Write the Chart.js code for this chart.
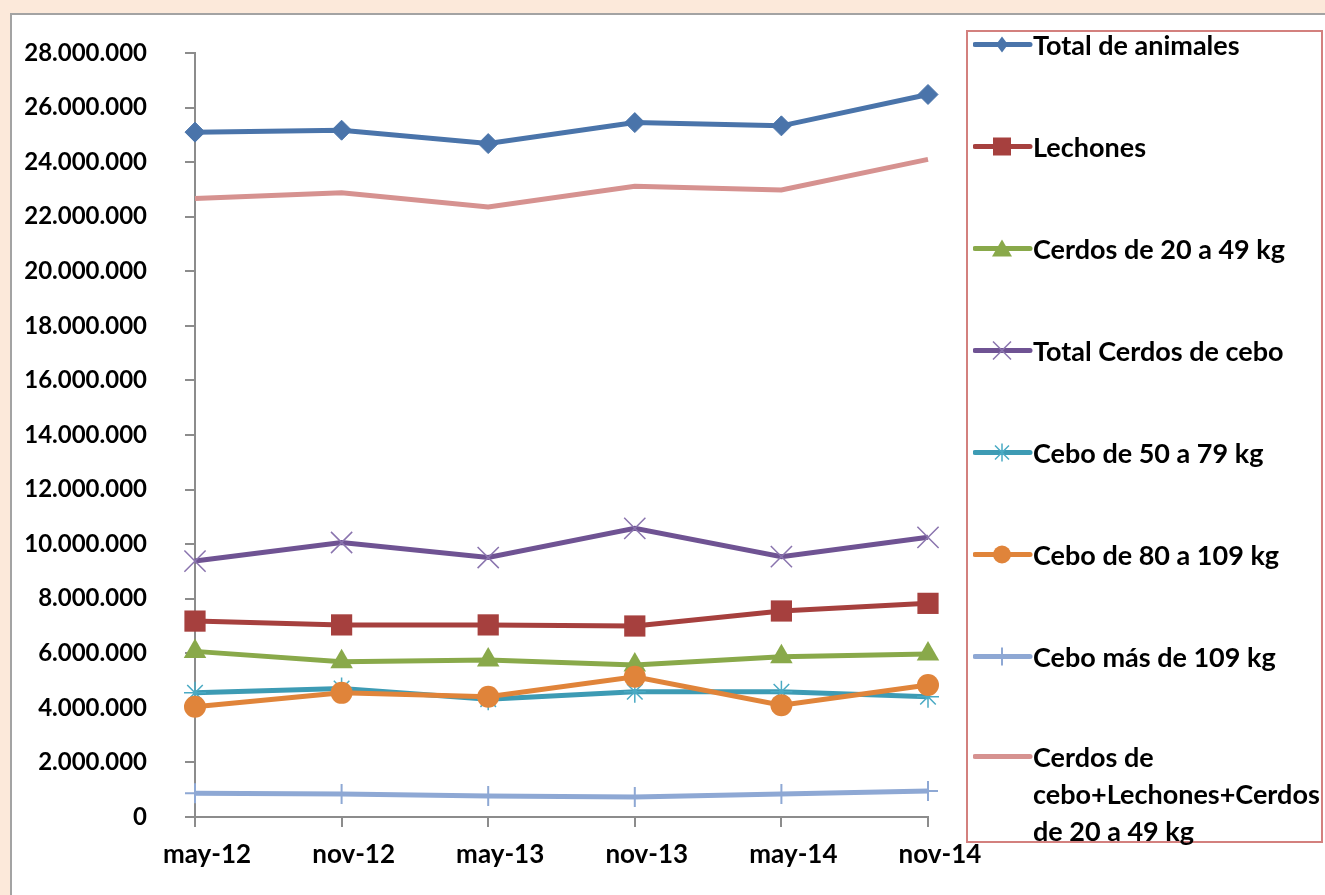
<!DOCTYPE html>
<html lang="es">
<head>
<meta charset="UTF-8">
<title>Censo porcino</title>
<script src="https://cdn.jsdelivr.net/npm/chart.js"></script>
<style>
    body {
        margin: 0;
        width: 1325px;
        height: 895px;
        overflow: hidden;
        background: #fce9da;
        font-family: Lato, sans-serif;
    }
    #frame {
        position: absolute;
        left: 10px;
        top: 13px;
        width: 1400px;
        height: 1000px;
        background: #fff;
        border: 2px solid #a3a3a3;
    }
    #chart-box {
        position: absolute;
        left: 0;
        top: 0;
        width: 1000px;
        height: 895px;
    }
    #legend {
        position: absolute;
        left: 966px;
        top: 30px;
        width: 353px;
        height: 809px;
        border: 2px solid #d3807e;
        background: #fff;
    }
    .item {
        position: absolute;
        left: 5px;
        display: flex;
        align-items: flex-start;
        font-weight: bold;
        font-size: 27px;
        line-height: 37px;
        color: #000;
    }
    .item svg { flex: none; }
    .item span { width: 292px; }
</style>
</head>
<body>
<div id="frame"></div>
<div id="chart-box"><canvas id="chart"></canvas></div>
<div id="legend"></div>

<script>
const periods = ['may-12', 'nov-12', 'may-13', 'nov-13', 'may-14', 'nov-14'];

const totalAnimales = [25100000, 25170000, 24680000, 25450000, 25330000, 26480000];
const lechones = [7180000, 7040000, 7040000, 7000000, 7550000, 7830000];
const cerdos20a49 = [6070000, 5690000, 5750000, 5570000, 5870000, 5970000];
const totalCebo = [9380000, 10060000, 9510000, 10580000, 9540000, 10250000];
const cebo50a79 = [4550000, 4710000, 4320000, 4590000, 4590000, 4410000];
const cebo80a109 = [4040000, 4550000, 4410000, 5140000, 4100000, 4840000];
const ceboMas109 = [870000, 840000, 770000, 730000, 840000, 950000];
const sumaCerdos = [22670000, 22880000, 22360000, 23120000, 22980000, 24100000];

const yTicksMax = 28000000;
const yTicksStep = 2000000;

// series: label, data, line colour, marker
const series = [
    { label: 'Total de animales', data: totalAnimales, color: '#4a74aa', style: 'rectRot', r: 10, mark: '#4a74aa', bw: 1 },
    { label: 'Lechones', data: lechones, color: '#a6403e', style: 'rect', r: 15, mark: '#a6403e', bw: 0 },
    { label: 'Cerdos de 20 a 49 kg', data: cerdos20a49, color: '#89a94a', style: 'triangle', r: 13, mark: '#89a94a', bw: 0 },
    { label: 'Total Cerdos de cebo', data: totalCebo, color: '#6f5393', style: 'crossRot', r: 15, mark: '#8a74ae', bw: 1.5 },
    { label: 'Cebo de 50 a 79 kg', data: cebo50a79, color: '#3d9bb4', style: 'star', r: 11, mark: '#4aaac4', bw: 1.5 },
    { label: 'Cebo de 80 a 109 kg', data: cebo80a109, color: '#e0843a', style: 'circle', r: 11, mark: '#e0843a', bw: 0 },
    { label: 'Cebo más de 109 kg', data: ceboMas109, color: '#8ea8d4', style: 'cross', r: 10, mark: '#8ea8d4', bw: 2 },
    { label: 'Cerdos de cebo+Lechones+Cerdos de 20 a 49 kg', data: sumaCerdos, color: '#d69290', style: false, r: 0, mark: '#d69290', bw: 0 }
];

function fmt(v) {
    return String(v).replace(/\B(?=(\d{3})+(?!\d))/g, '.');
}

const datasets = series.map((s, i) => ({
    label: s.label,
    data: s.data,
    borderColor: s.color,
    backgroundColor: s.mark,
    borderWidth: 5,
    tension: 0,
    pointStyle: s.style,
    pointRadius: s.r,
    pointBackgroundColor: s.mark,
    pointBorderColor: s.mark,
    pointBorderWidth: s.bw,
    order: series.length - i,
    clip: false
}));

Chart.defaults.font.family = 'Lato, sans-serif';

new Chart(document.getElementById('chart'), {
    type: 'line',
    data: { labels: periods, datasets: datasets },
    options: {
        responsive: true,
        maintainAspectRatio: false,
        animation: false,
        events: [],
        layout: { padding: { top: 53, right: 72, bottom: 0, left: 0 } },
        plugins: {
            legend: { display: false },
            tooltip: { enabled: false }
        },
        scales: {
            x: {
                offset: false,
                afterFit: (scale) => { scale.height = 78; },
                grid: { drawOnChartArea: false, drawTicks: true, tickLength: 10, color: '#8c8c8c', lineWidth: 2 },
                border: { display: true, color: '#8c8c8c', width: 2 },
                ticks: {
                    color: '#000',
                    font: { size: 26, weight: 'bold' },
                    padding: 12,
                    labelOffset: 12,
                    maxRotation: 0,
                    autoSkip: false
                }
            },
            y: {
                min: 0,
                max: yTicksMax,
                afterFit: (scale) => { scale.width = 195; },
                grid: { drawOnChartArea: false, drawTicks: true, tickLength: 10, color: '#8c8c8c', lineWidth: 2 },
                border: { display: true, color: '#8c8c8c', width: 2 },
                ticks: {
                    stepSize: yTicksStep,
                    color: '#000',
                    font: { size: 24, weight: 'bold' },
                    padding: 38,
                    callback: (v) => fmt(v)
                }
            }
        }
    }
});

// legend, built from the same series list
function markerSvg(s) {
    const cx = 29, cy = 18;
    let shape = '';
    if (s.style === 'rectRot') {
        shape = `<polygon points="${cx},${cy - 8} ${cx + 6},${cy} ${cx},${cy + 8} ${cx - 6},${cy}" fill="${s.mark}"/>`;
    } else if (s.style === 'rect') {
        shape = `<rect x="${cx - 9}" y="${cy - 9}" width="18" height="18" fill="${s.mark}"/>`;
    } else if (s.style === 'triangle') {
        shape = `<polygon points="${cx},${cy - 9} ${cx + 10},${cy + 8} ${cx - 10},${cy + 8}" fill="${s.mark}"/>`;
    } else if (s.style === 'crossRot') {
        shape = `<path d="M${cx - 9} ${cy - 9}L${cx + 9} ${cy + 9}M${cx + 9} ${cy - 9}L${cx - 9} ${cy + 9}" stroke="${s.mark}" stroke-width="1.5"/>`;
    } else if (s.style === 'star') {
        shape = `<path d="M${cx - 7} ${cy - 7}L${cx + 7} ${cy + 7}M${cx + 7} ${cy - 7}L${cx - 7} ${cy + 7}M${cx} ${cy - 9}L${cx} ${cy + 9}" stroke="${s.mark}" stroke-width="1.5"/>`;
    } else if (s.style === 'circle') {
        shape = `<circle cx="${cx}" cy="${cy}" r="9" fill="${s.mark}"/>`;
    } else if (s.style === 'cross') {
        shape = `<path d="M${cx} ${cy - 9}L${cx} ${cy + 9}" stroke="${s.mark}" stroke-width="2"/>`;
    }
    return `<svg width="60" height="37" viewBox="0 0 60 36">` +
        `<line x1="2" y1="${cy}" x2="57" y2="${cy}" stroke="${s.color}" stroke-width="5" stroke-linecap="round"/>` +
        shape + `</svg>`;
}

const legendEl = document.getElementById('legend');
series.forEach((s, i) => {
    const item = document.createElement('div');
    item.className = 'item';
    const centre = i < 7 ? 44 + 102 * i : 756;
    item.style.top = (centre - 18 - 32) + 'px';
    item.innerHTML = markerSvg(s) + '<span>' + s.label + '</span>';
    legendEl.appendChild(item);
});
</script>
</body>
</html>
